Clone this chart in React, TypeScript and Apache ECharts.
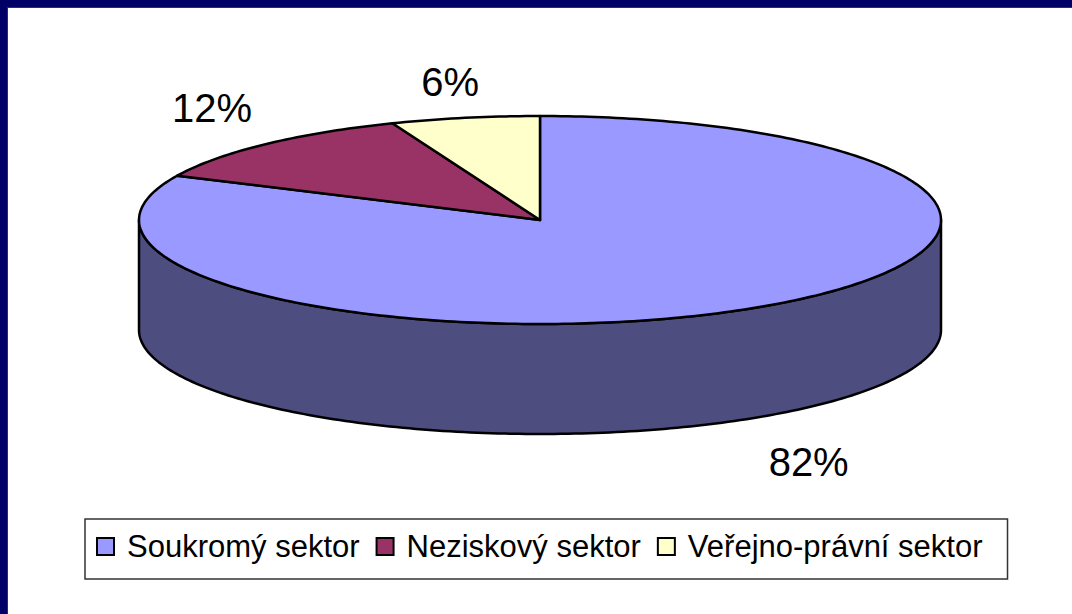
import React, { useEffect, useRef } from "react";
import * as echarts from "echarts";

const categories = ["Soukromý sektor", "Neziskový sektor", "Veřejno-právní sektor"];
const values = [82, 12, 6];
const topColors = ["#9999FF", "#993366", "#FFFFCC"];
const sideColors = ["#4D4D80", "#4D1A33", "#808066"];

const CX = 540;
const CY = 220;
const RX = 401;
const RY = 104;
const DEPTH = 110;
const FONT = '"Liberation Sans", Arial, sans-serif';

function ellPt(t: number, dy: number) {
  return [CX + RX * Math.sin(t), CY - RY * Math.cos(t) + dy];
}

function arc(a: number, b: number, dy: number) {
  const n = Math.max(2, Math.ceil(Math.abs(b - a) / (Math.PI / 180)));
  const pts: number[][] = [];
  for (let k = 0; k <= n; k++) {
    pts.push(ellPt(a + ((b - a) * k) / n, dy));
  }
  return pts;
}

function renderSlice(i: number, api: any) {
  const total = values.reduce((s, v) => s + v, 0);
  const before = values.slice(0, i).reduce((s, v) => s + v, 0);
  const val = api.value(0);
  const start = (before / total) * Math.PI * 2;
  const end = start + (val / total) * Math.PI * 2;
  const children: any[] = [];
  const s = Math.max(start, Math.PI / 2);
  const e = Math.min(end, (Math.PI * 3) / 2);
  if (e > s) {
    const pts = arc(s, e, 0).concat(arc(e, s, DEPTH));
    children.push({
      type: "polygon",
      shape: { points: pts },
      style: { fill: sideColors[i], stroke: "#000", lineWidth: 2.5, lineJoin: "round" },
    });
  }
  const topPts = [[CX, CY]].concat(arc(start, end, 0));
  children.push({
    type: "polygon",
    shape: { points: topPts },
    style: { fill: topColors[i], stroke: "#000", lineWidth: 2.5, lineJoin: "round" },
  });
  const mid = (start + end) / 2;
  const sn = Math.sin(mid);
  const cs = Math.cos(mid);
  const front = cs < 0;
  const lx = CX + sn * (RX + 78) + (front ? 12 : 0);
  const ly = CY - cs * RY + (front ? DEPTH + 44 : -36);
  children.push({
    type: "text",
    x: lx,
    y: ly,
    style: {
      text: Math.round((val / total) * 100) + "%",
      fontSize: 40,
      fontFamily: FONT,
      fill: "#000",
      align: "center",
      verticalAlign: "middle",
    },
  });
  return { type: "group", children };
}

export default function App() {
  const ref = useRef<HTMLDivElement>(null);
  useEffect(() => {
    if (!ref.current) return;
    const chart = echarts.init(ref.current, null, { renderer: "svg" });
    chart.setOption({
      animation: false,
      backgroundColor: "#fff",
      graphic: [
        { type: "rect", shape: { x: 0, y: 0, width: 1072, height: 7 }, style: { fill: "#000066" }, z: 10 },
        { type: "rect", shape: { x: 0, y: 0, width: 7, height: 614 }, style: { fill: "#000066" }, z: 10 },
        { type: "line", shape: { x1: 7, y1: 7.5, x2: 1072, y2: 7.5 }, style: { stroke: "#333", lineWidth: 1 }, z: 10 },
        { type: "line", shape: { x1: 7.5, y1: 7, x2: 7.5, y2: 614 }, style: { stroke: "#333", lineWidth: 1 }, z: 10 },
      ],
      legend: {
        left: 85,
        top: 519,
        orient: "horizontal",
        data: categories,
        icon: "rect",
        itemWidth: 17,
        itemHeight: 17,
        itemGap: 16,
        selectedMode: false,
        itemStyle: { borderColor: "#000", borderWidth: 2 },
        textStyle: { fontSize: 31, fontFamily: FONT, color: "#000", padding: [0, 0, 0, 8] },
        backgroundColor: "#fff",
        borderColor: "#333",
        borderWidth: 1.5,
        padding: [12, 25, 17, 11],
      },
      series: categories.map((name, i) => ({
        type: "custom",
        name,
        coordinateSystem: "none",
        silent: true,
        data: [values[i]],
        itemStyle: { color: topColors[i] },
        renderItem: (_params: any, api: any) => renderSlice(i, api),
      })),
    });
    return () => chart.dispose();
  }, []);
  return (
    <div
      ref={ref}
      style={{ position: "absolute", left: 0, top: 0, width: 1072, height: 614 }}
    />
  );
}
